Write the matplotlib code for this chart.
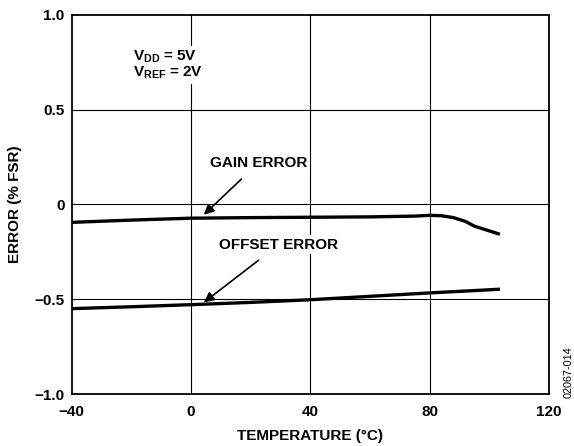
import numpy as np
import matplotlib.pyplot as plt

plt.rcParams['font.family'] = ['Liberation Sans', 'DejaVu Sans']
plt.rcParams['font.weight'] = 'bold'
plt.rcParams['mathtext.fontset'] = 'custom'
plt.rcParams['mathtext.rm'] = 'Liberation Sans:bold'
plt.rcParams['mathtext.bf'] = 'Liberation Sans:bold'
plt.rcParams['mathtext.it'] = 'Liberation Sans:bold'

temp_gain = [-40, -20, 0, 20, 40, 60, 75, 80, 84, 88, 92, 95, 103]
gain_err = [-0.095, -0.083, -0.073, -0.070, -0.068, -0.066, -0.062, -0.058,
            -0.060, -0.070, -0.090, -0.115, -0.155]

temp_off = [-40, -20, 0, 20, 40, 60, 80, 103]
offset_err = [-0.550, -0.540, -0.529, -0.517, -0.503, -0.485, -0.467, -0.448]

xticks = [-40, 0, 40, 80, 120]
xticklabels = ['\u221240', '0', '40', '80', '120']
yticks = [-1.0, -0.5, 0, 0.5, 1.0]
yticklabels = ['\u22121.0', '\u22120.5', '0', '0.5', '1.0']

fs = 11

fig = plt.figure(figsize=(5.74, 4.46), dpi=100)
ax = fig.add_axes([71.5 / 574, 1 - 394 / 446, (549 - 71.5) / 574, (394 - 14.7) / 446])

for x in [0, 40, 80]:
    ax.axvline(x, color='black', lw=0.8, zorder=1)
for y in [-0.5, 0, 0.5]:
    ax.axhline(y, color='black', lw=0.8, zorder=1)

ax.plot(temp_gain, gain_err, color='black', lw=2.4, zorder=3)
ax.plot(temp_off, offset_err, color='black', lw=2.4, zorder=3)

ax.set_xlim(-40, 120)
ax.set_ylim(-1.0, 1.0)
ax.set_xticks(xticks)
ax.set_xticklabels(xticklabels)
ax.set_yticks(yticks)
ax.set_yticklabels(yticklabels)
ax.tick_params(length=0, labelsize=fs)
ax.tick_params(axis='x', pad=8)
ax.tick_params(axis='y', pad=5)
for s in ax.spines.values():
    s.set_linewidth(1.3)

ax.set_xlabel('TEMPERATURE (\u00b0C)', fontsize=fs, fontweight='bold', labelpad=7)
ax.set_ylabel('ERROR (% FSR)', fontsize=fs, fontweight='bold', labelpad=9)

box = dict(facecolor='white', edgecolor='none', pad=2)
ax.text(-19.5, 0.735, '$\\mathbf{V_{DD}}$ = 5V\n$\\mathbf{V_{REF}}$ = 2V', fontsize=fs,
        fontweight='bold', ha='left', va='center', linespacing=1.0, bbox=box, zorder=4)

ax.annotate('GAIN ERROR', xy=(4.35, -0.055), xytext=(22.7, 0.22),
            fontsize=fs, fontweight='bold', ha='center', va='center', bbox=box, zorder=4,
            arrowprops=dict(arrowstyle='-|>', color='black', lw=1.2, mutation_scale=15,
                            shrinkA=7, shrinkB=0))
ax.annotate('OFFSET ERROR', xy=(4.35, -0.517), xytext=(29.5, -0.212),
            fontsize=fs, fontweight='bold', ha='center', va='center', bbox=box, zorder=4,
            arrowprops=dict(arrowstyle='-|>', color='black', lw=1.2, mutation_scale=15,
                            shrinkA=7, shrinkB=0))

fig.text(569 / 574, 1 - 372 / 446, '02067-014', rotation=90, fontsize=7.8,
         fontweight='normal', ha='center', va='center')

plt.savefig('out.png', dpi=100)
